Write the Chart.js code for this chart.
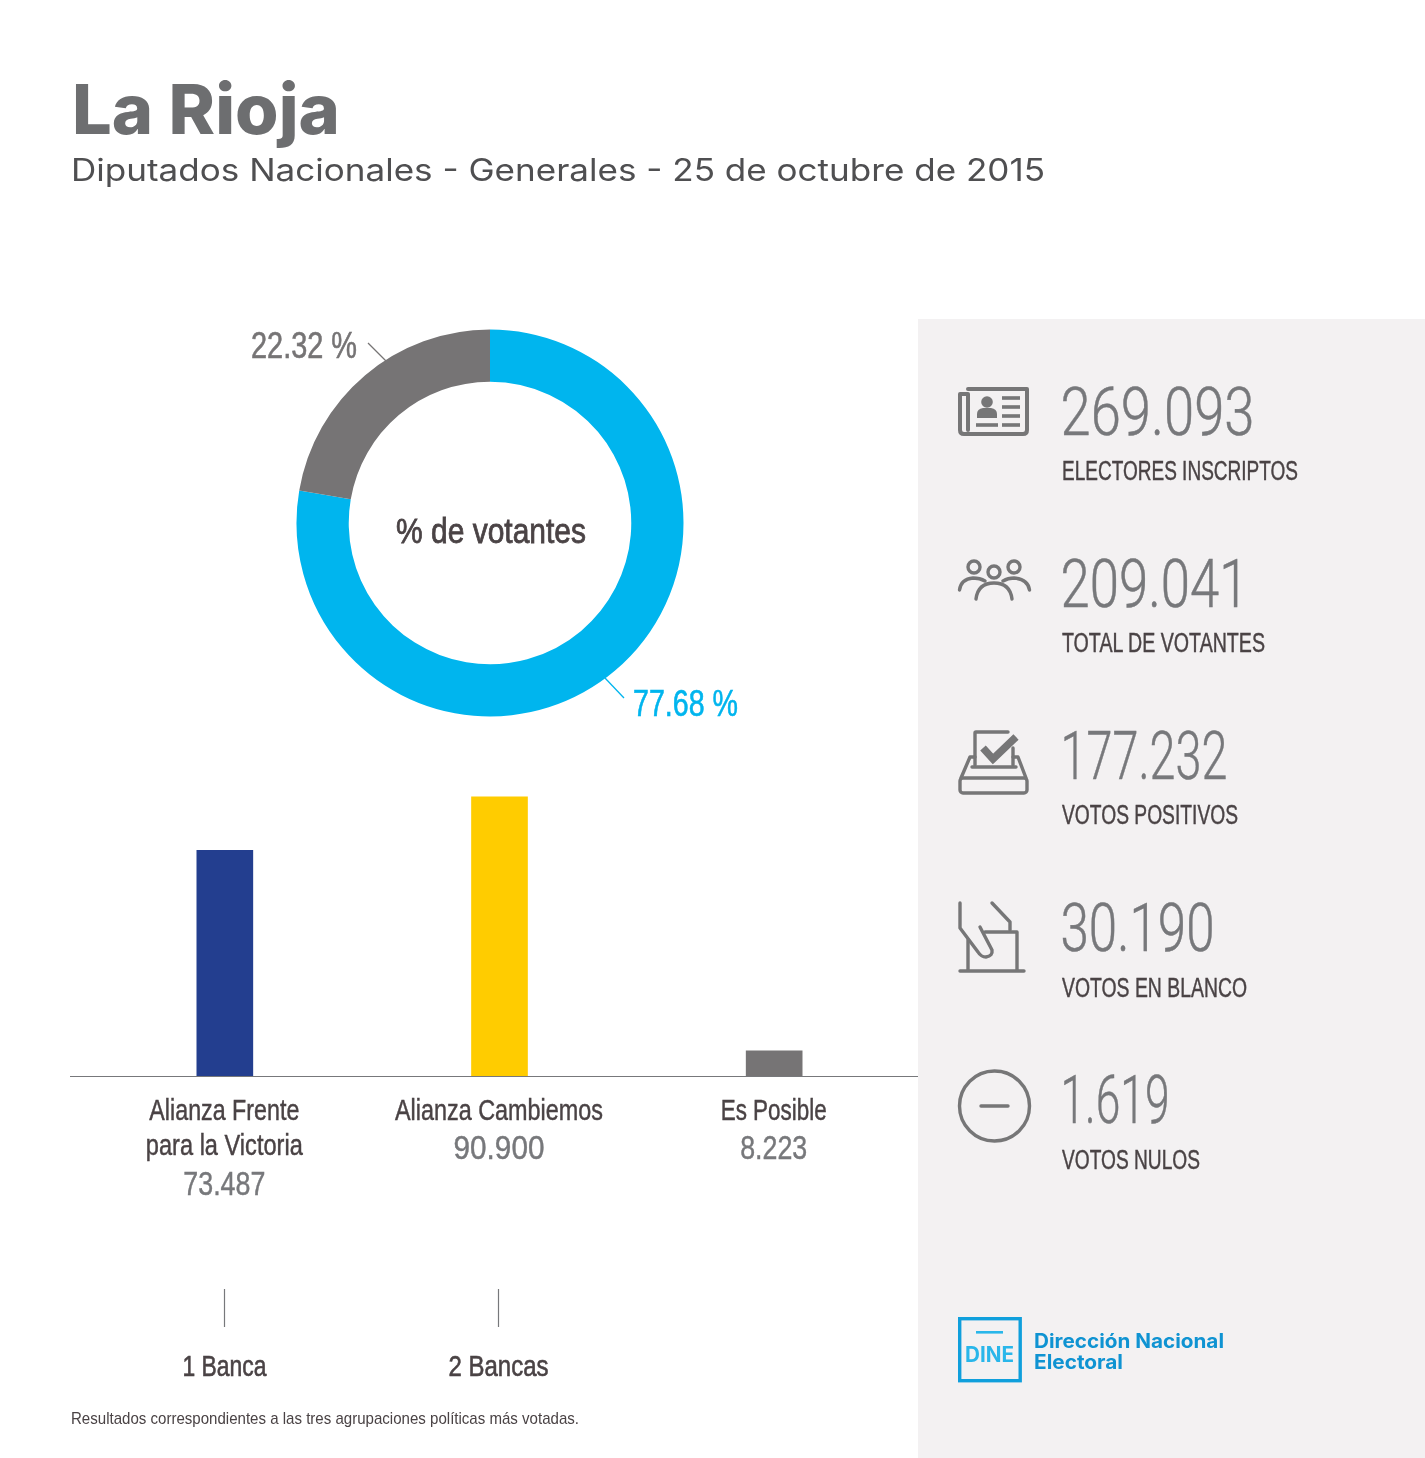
<!DOCTYPE html>
<html lang="es"><head><meta charset="utf-8"><title>La Rioja</title>
<script src="https://cdn.jsdelivr.net/npm/chart.js@4"></script>
<style>
html,body{margin:0;padding:0;background:#fff;width:1425px;height:1458px;overflow:hidden}
#panel{position:absolute;left:918px;top:319px;width:507px;height:1139px;background:#f3f1f2}
#donutBox{position:absolute;left:280px;top:313px;width:420px;height:420px}
#barBox{position:absolute;left:0;top:760px;width:918px;height:480px}
#overlay{position:absolute;left:0;top:0;width:1425px;height:1458px;pointer-events:none}
.num{font-family:Roboto,sans-serif;font-weight:300;fill:#77787b;font-size:67px;stroke:#77787b;stroke-width:.5}
.lab{font-family:"Liberation Sans",sans-serif;fill:#4a4345;font-size:27px;stroke:#4a4345;stroke-width:.45}
.ico{fill:none;stroke:#767677;stroke-width:3.4;stroke-linecap:round;stroke-linejoin:round}
.fil{fill:#767677;stroke:none}
</style></head><body>
<div id="panel"></div>
<div id="donutBox"><canvas id="donut"></canvas></div>
<div id="barBox"><canvas id="bars"></canvas></div>
<svg id="overlay" viewBox="0 0 1425 1458" xmlns="http://www.w3.org/2000/svg"></svg>
<script>
// ---- data
const shareLabels = ["Votantes","No votantes"];
const shareValues = [77.68,22.32];
const partyNames = [["Alianza Frente","para la Victoria"],["Alianza Cambiemos"],["Es Posible"]];
const partyVotes = [73487,90900,8223];
const partyVoteLabels = ["73.487","90.900","8.223"];
const seats = ["1 Banca","2 Bancas",""];
const statNumbers = ["269.093","209.041","177.232","30.190","1.619"];
const statLabels = ["ELECTORES INSCRIPTOS","TOTAL DE VOTANTES","VOTOS POSITIVOS","VOTOS EN BLANCO","VOTOS NULOS"];

// ---- layout & style
const BLUE="#00b5ee",GREY="#767475",NAVY="#233e8f",YELLOW="#ffcc00";
const SANS='"Liberation Sans",sans-serif';
const nameWidths=[[150,157],[208],[106]];
const voteWidths=[82,91,67];
Chart.defaults.animation=false;
const dpr=1;

function sizeCanvas(id,w,h){const c=document.getElementById(id);c.width=w;c.height=h;c.style.width=w+'px';c.style.height=h+'px';return c;}

new Chart(sizeCanvas('donut',420,420),{
  type:'doughnut',
  data:{labels:shareLabels,datasets:[{data:shareValues,backgroundColor:[BLUE,GREY],borderWidth:0}]},
  options:{responsive:false,devicePixelRatio:dpr,cutout:'73%',rotation:0,radius:193.5,
    layout:{padding:0},plugins:{legend:{display:false},tooltip:{enabled:false}}}
});

const barAnnot={id:'barAnnot',afterDraw(chart){
  const {ctx,scales:{x}}=chart;
  const y0=chart.scales.y.getPixelForValue(0);
  const put=(t,cx,y,w)=>{ctx.fillText(t,cx,y,w);ctx.strokeText(t,cx,y,w);};
  ctx.save();
  ctx.strokeStyle='#77787b';ctx.lineWidth=1;
  ctx.beginPath();ctx.moveTo(70,y0+.5);ctx.lineTo(918,y0+.5);ctx.stroke();
  ctx.textAlign='center';ctx.textBaseline='alphabetic';ctx.lineWidth=.45;
  partyNames.forEach((lines,i)=>{
    const cx=x.getPixelForValue(i)-.5;
    ctx.font='29px '+SANS;ctx.fillStyle=ctx.strokeStyle='#4a4345';
    lines.forEach((t,j)=>put(t,cx,y0+44+j*35,nameWidths[i][j]));
    ctx.font='33px '+SANS;ctx.fillStyle=ctx.strokeStyle='#77787b';
    put(partyVoteLabels[i],cx,y0+(lines.length===2?119:83),voteWidths[i]);
  });
  ctx.restore();
}};
new Chart(sizeCanvas('bars',918,480),{
  type:'bar',
  data:{labels:partyNames,datasets:[{data:partyVotes,backgroundColor:[NAVY,YELLOW,GREY],barThickness:56,borderWidth:0}]},
  options:{responsive:false,devicePixelRatio:dpr,
    layout:{padding:{left:87.5,right:6.5,top:9,bottom:0}},
    plugins:{legend:{display:false},tooltip:{enabled:false}},
    scales:{
      x:{grid:{display:false},border:{display:false},
         afterFit(s){s.height=164;},
         ticks:{display:false}},
      y:{display:false,min:0,max:100000}
    }},
  plugins:[barAnnot]
});

// ---- overlay: text and pictograms
const svg=document.getElementById('overlay');
const NS='http://www.w3.org/2000/svg';
function text(s,x,y,w,opt){
  const t=document.createElementNS(NS,'text');
  t.textContent=s;t.setAttribute('x',x);t.setAttribute('y',y);
  if(w){t.setAttribute('textLength',w);t.setAttribute('lengthAdjust','spacingAndGlyphs');}
  if(opt.cls)t.setAttribute('class',opt.cls);
  ['fill','font-family','font-size','font-weight','stroke','stroke-width'].forEach(k=>{if(opt[k]!==undefined)t.setAttribute(k,opt[k]);});
  svg.appendChild(t);return t;
}
function add(tag,attrs){const e=document.createElementNS(NS,tag);for(const k in attrs)e.setAttribute(k,attrs[k]);svg.appendChild(e);return e;}
const ico=(d,w)=>{const p=add('path',{d,class:'ico'});if(w)p.style.strokeWidth=w;return p;};

text("La Rioja",72,134,268,{'font-family':'Inter','font-size':69,'font-weight':800,fill:'#6d6e70'});
text("Diputados Nacionales - Generales - 25 de octubre de 2015",71,181,974,{'font-family':'Inter','font-size':31,'font-weight':400,fill:'#4f4f51'});

// donut labels
text(shareValues[1].toFixed(2)+" %",251,358,106,{'font-family':SANS,'font-size':36,fill:GREY,stroke:GREY,'stroke-width':.6});
text(shareValues[0].toFixed(2)+" %",633,716,105,{'font-family':SANS,'font-size':36,fill:BLUE,stroke:BLUE,'stroke-width':.6});
text("% de votantes",396,543,190,{'font-family':SANS,'font-size':35,fill:'#4a4345',stroke:'#4a4345','stroke-width':.8});
add('line',{x1:368,y1:343,x2:386,y2:361,stroke:GREY,'stroke-width':1.3});
add('line',{x1:605,y1:678,x2:624,y2:698,stroke:BLUE,'stroke-width':1.3});

// seats
const seatX=[224.5,498.5];const seatW=[84,100];
seats.forEach((s,i)=>{ if(!s)return;
  add('line',{x1:seatX[i],y1:1289,x2:seatX[i],y2:1327,stroke:'#77787b','stroke-width':1.2});
  text(s,seatX[i]-seatW[i]/2,1376,seatW[i],{'font-family':SANS,'font-size':29,fill:'#4a4345',stroke:'#4a4345','stroke-width':.6});
});
text("Resultados correspondientes a las tres agrupaciones políticas más votadas.",71,1424,508,{'font-family':SANS,'font-size':17,fill:'#4a4345'});

// stats
const numBase=[435,607,779,951,1123], numW=[194,188,167,154,109];
const labBase=[480,652,824,997,1169], labW=[236,203,176,185,138];
statNumbers.forEach((s,i)=>text(s,1060.5,numBase[i],numW[i],{cls:'num'}));
statLabels.forEach((s,i)=>text(s,1062,labBase[i],labW[i],{cls:'lab'}));

// newspaper
ico("M968 389H1027V430q0 4-4 4H964q-4 0-4-4V394H968V430",4);
add('circle',{cx:987,cy:402,r:5.8,class:'fil'});
add('path',{d:"M977 418v-4q0-5 6-6h8q6 1 6 6v4z",class:'fil'});
[[976,998,425],[1002,1020,425],[1002,1020,416],[1002,1020,407],[1002,1020,398]].forEach(l=>add('rect',{x:l[0],y:l[2]-1.8,width:l[1]-l[0],height:3.6,class:'fil'}));
// people
[[974,567],[994,572],[1014,567]].forEach(c=>add('circle',{cx:c[0],cy:c[1],r:6,class:'ico'}));
ico("M976 599Q978 583 994 583Q1010 583 1012 599");
ico("M959.5 590Q961 579 973 578Q980 578 985 581");
ico("M1029.5 590Q1028 579 1014 578Q1008 578 1003 581");
// ballot
ico("M975 765V733Q975 732 976 732H1008M1013 748V765");
ico("M972 767H1016");
add('path',{d:"M983 748L993 759L1016 737",fill:'none',stroke:'#767677','stroke-width':7.5,'stroke-linejoin':'miter'});
ico("M975 757H970L961 778M1013 757H1018L1026 778");
add('rect',{x:960,y:778,width:67,height:15,rx:3,class:'ico'});
// hand in box
ico("M960 903V928L978 952Q981 957 986 957Q993 956 992 950L980 927");
ico("M992 903L1010 922V930");
ico("M985 932H1017V970M968 940V970M960 971H1024");
// minus
add('circle',{cx:994.5,cy:1106,r:35,class:'ico'});
ico("M981 1106H1008");

// logo
add('rect',{x:959.7,y:1318.7,width:60.5,height:62,fill:'none',stroke:'#0f9fdc','stroke-width':3.4});
add('rect',{x:976,y:1331,width:27,height:2.6,fill:'#29b6ea'});
text("DINE",965,1362,49,{'font-family':'Inter','font-size':21,'font-weight':700,fill:'#29b6ea'});
text("Dirección Nacional",1034,1348,190,{'font-family':'Inter','font-size':19.5,'font-weight':700,fill:'#0f93d2'});
text("Electoral",1034,1369,89,{'font-family':'Inter','font-size':19.5,'font-weight':700,fill:'#0f93d2'});
</script>
</body></html>
